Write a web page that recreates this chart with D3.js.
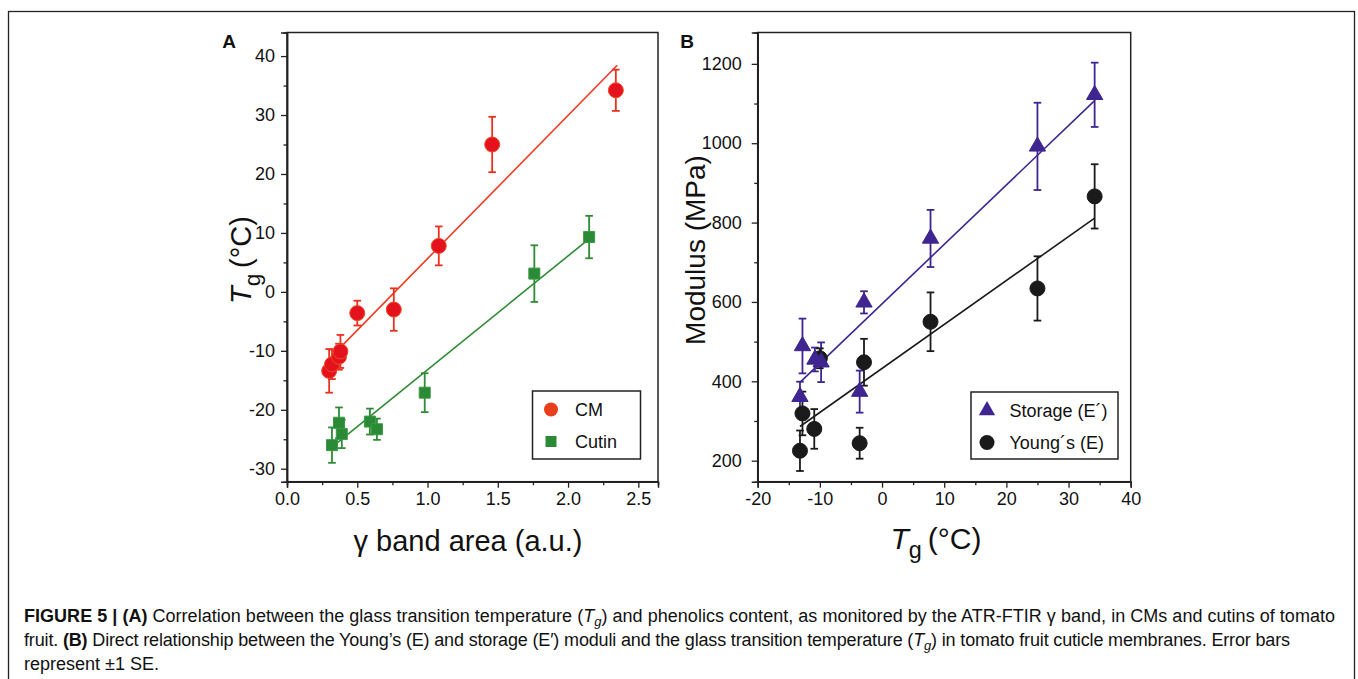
<!DOCTYPE html>
<html><head><meta charset="utf-8">
<script src="https://cdn.jsdelivr.net/npm/d3@7"></script>
<style>
body{margin:0;background:#fff;}
svg{display:block;}
text{font-family:"Liberation Sans",Arial,Helvetica,sans-serif;fill:#111;}
</style>
</head><body>
<svg id="c" width="1358" height="679"></svg>
<script>
// ---------- Data: panel A ----------
const cmX     = [0.30, 0.32, 0.37, 0.38, 0.50, 0.76, 1.08, 1.46, 2.34];
const cmY     = [-13.4, -12.3, -11.0, -10.1, -3.6, -3.0, 7.8, 25.0, 34.2];
const cmErr   = [3.7, 2.5, 2.2, 2.8, 2.1, 3.6, 3.3, 4.7, 3.5];
const cutinX  = [0.32, 0.37, 0.39, 0.59, 0.64, 0.98, 1.76, 2.15];
const cutinY  = [-26.0, -22.2, -24.1, -22.0, -23.3, -17.1, 3.1, 9.3];
const cutinErr= [3.0, 2.6, 2.4, 2.2, 1.8, 3.3, 4.8, 3.6];
const fitCM       = [24.3, -18.66];   // slope, intercept
const fitCMRange  = [0.30, 2.35];
const fitCutin    = [19.3, -32.5];
const fitCutinRange = [0.32, 2.15];

// ---------- Data: panel B ----------
const stoX   = [-13.2, -12.8, -10.8, -9.8, -3.6, -2.9, 7.8, 25.0, 34.2];
const stoY   = [361, 489, 455, 448, 374, 599, 760, 992, 1122];
const stoErr = [38, 69, 30, 50, 53, 28, 72, 110, 81];
const yngX   = [-13.2, -12.8, -10.9, -10.0, -3.6, -2.9, 7.8, 25.0, 34.2];
const yngY   = [225, 319, 280, 458, 244, 448, 550, 634, 866];
const yngErr = [51, 55, 50, 25, 39, 59, 74, 81, 81];
const fitSto      = [14.98, 595.2];
const fitStoRange = [-13.2, 34.2];
const fitYng      = [11.08, 432.3];
const fitYngRange = [-13.2, 34.2];

// ---------- Ticks ----------
const xTicksA = [0, 0.5, 1.0, 1.5, 2.0, 2.5];
const xMinorA = [0.25, 0.75, 1.25, 1.75, 2.25];
const yTicksA = [-30, -20, -10, 0, 10, 20, 30, 40];
const yMinorA = [-25, -15, -5, 5, 15, 25, 35];
const xTicksB = [-20, -10, 0, 10, 20, 30, 40];
const xMinorB = [-15, -5, 5, 15, 25, 35];
const yTicksB = [200, 400, 600, 800, 1000, 1200];
const yMinorB = [300, 500, 700, 900, 1100];

const legendA = ["CM", "Cutin"];
const legendB = ["Storage (E\u00b4)", "Young\u00b4s (E)"];

const svg = d3.select("#c");

// outer frame
svg.append("rect").attr("x", 8.5).attr("y", 11.5).attr("width", 1346).attr("height", 720)
  .attr("fill", "none").attr("stroke", "#222").attr("stroke-width", 1.3);

const plotTop = 32.5, plotBottom = 481.7;
const xA = d3.scaleLinear().domain([0, 2.64]).range([287, 658]);
const yA = d3.scaleLinear().domain([-32.2, 44]).range([plotBottom, plotTop]);
const xB = d3.scaleLinear().domain([-20, 40]).range([757.7, 1130.7]);
const yB = d3.scaleLinear().domain([147, 1279]).range([plotBottom, plotTop]);

const hyph = f => (v => f(v).replace("\u2212", "-"));

function frame(x, y) {
  const [x0, x1] = x.range(), [y0, y1] = y.range();
  svg.append("rect").attr("x", x0).attr("y", y1).attr("width", x1 - x0).attr("height", y0 - y1)
    .attr("fill", "none").attr("stroke", "#222").attr("stroke-width", 1.5);
}

function axes(x, y, xt, xm, yt, ym, xfmt, yfmt, ypad) {
  const g = svg.append("g");
  const [x0] = x.range(), [y0] = y.range();
  g.append("g").attr("transform", `translate(0,${y0})`)
    .call(d3.axisBottom(x).tickValues(xt).tickSize(6).tickPadding(5).tickFormat(xfmt));
  g.append("g").attr("transform", `translate(0,${y0})`)
    .call(d3.axisBottom(x).tickValues(xm).tickSize(3.5).tickFormat(""));
  g.append("g").attr("transform", `translate(${x0},0)`)
    .call(d3.axisLeft(y).tickValues(yt).tickSize(6).tickPadding(ypad).tickFormat(yfmt));
  g.append("g").attr("transform", `translate(${x0},0)`)
    .call(d3.axisLeft(y).tickValues(ym).tickSize(3.5).tickFormat(""));
  g.selectAll(".domain").attr("stroke", "#222").attr("stroke-width", 1.5);
  g.selectAll(".tick line").attr("stroke", "#222").attr("stroke-width", 1.3);
  g.selectAll(".tick text").attr("font-size", 18).attr("fill", "#111")
    .attr("font-family", "Liberation Sans, Arial, sans-serif");
}

frame(xA, yA);
frame(xB, yB);
axes(xA, yA, xTicksA, xMinorA, yTicksA, yMinorA, d3.format(".1f"), hyph(d3.format("d")), 6);
axes(xB, yB, xTicksB, xMinorB, yTicksB, yMinorB, hyph(d3.format("d")), d3.format("d"), 10);

// panel letters
svg.append("text").attr("x", 229).attr("y", 48).attr("text-anchor", "middle")
  .attr("font-size", 19).attr("font-weight", "bold").text("A");
svg.append("text").attr("x", 687).attr("y", 48).attr("text-anchor", "middle")
  .attr("font-size", 19).attr("font-weight", "bold").text("B");

// fit lines
function fitLine(x, y, p, r, color) {
  svg.append("line")
    .attr("x1", x(r[0])).attr("y1", y(p[0] * r[0] + p[1]))
    .attr("x2", x(r[1])).attr("y2", y(p[0] * r[1] + p[1]))
    .attr("stroke", color).attr("stroke-width", 1.6);
}
fitLine(xA, yA, fitCM, fitCMRange, "#ee3a22");
fitLine(xA, yA, fitCutin, fitCutinRange, "#2e8b34");
fitLine(xB, yB, fitSto, fitStoRange, "#3f2590");
fitLine(xB, yB, fitYng, fitYngRange, "#1a1a1a");

// error bars
function errBars(x, y, xs, ys, es, color) {
  const g = svg.append("g").attr("stroke", color).attr("stroke-width", 1.8).attr("fill", "none");
  xs.forEach((xv, i) => {
    const px = x(xv), pt = y(ys[i] + es[i]), pb = y(ys[i] - es[i]);
    g.append("line").attr("x1", px).attr("x2", px).attr("y1", pt).attr("y2", pb);
    g.append("line").attr("x1", px - 3.8).attr("x2", px + 3.8).attr("y1", pt).attr("y2", pt);
    g.append("line").attr("x1", px - 3.8).attr("x2", px + 3.8).attr("y1", pb).attr("y2", pb);
  });
}
errBars(xA, yA, cmX, cmY, cmErr, "#e8321f");
errBars(xA, yA, cutinX, cutinY, cutinErr, "#2e8b34");
errBars(xB, yB, stoX, stoY, stoErr, "#3f2590");
errBars(xB, yB, yngX, yngY, yngErr, "#1a1a1a");

// markers
function markers(x, y, xs, ys, type, size, fill, stroke) {
  svg.append("g").selectAll("path").data(xs).join("path")
    .attr("transform", (d, i) => `translate(${x(d)},${y(ys[i])})`)
    .attr("d", d3.symbol().type(type).size(size))
    .attr("fill", fill).attr("stroke", stroke).attr("stroke-width", 1);
}
markers(xA, yA, cmX, cmY, d3.symbolCircle, Math.PI * 7.5 * 7.5, "#e3121c", "#ef4a26");
markers(xA, yA, cutinX, cutinY, d3.symbolSquare, 11 * 11, "#2b8a35", "#3a9a42");
markers(xB, yB, yngX, yngY, d3.symbolCircle, Math.PI * 7.5 * 7.5, "#1a1a1a", "#1a1a1a");
markers(xB, yB, stoX, stoY, d3.symbolTriangle, 115, "#3f2590", "#3f2590");

// legends
function legend(x0, y0, w, h, labels, symbols, colors, sizes, symOff, txtOff) {
  svg.append("rect").attr("x", x0).attr("y", y0).attr("width", w).attr("height", h)
    .attr("fill", "#fff").attr("stroke", "#222").attr("stroke-width", 1.5);
  labels.forEach((lab, i) => {
    const cy = y0 + 18.5 + i * 32;
    svg.append("path").attr("transform", `translate(${x0 + symOff},${cy})`)
      .attr("d", d3.symbol().type(symbols[i]).size(sizes[i])).attr("fill", colors[i]);
    svg.append("text").attr("x", x0 + txtOff).attr("y", cy + 6.5).attr("font-size", 18).text(lab);
  });
}
legend(532.5, 391, 108, 68, legendA, [d3.symbolCircle, d3.symbolSquare],
  ["#e8401c", "#2b8a35"], [Math.PI * 49, 121], 18.5, 42.5);
legend(971, 392, 147, 67, legendB, [d3.symbolTriangle, d3.symbolCircle],
  ["#3f2590", "#1a1a1a"], [115, Math.PI * 56], 16, 38.5);

// axis titles
function tgTitle(g, size) {
  g.append("tspan").attr("font-style", "italic").text("T");
  g.append("tspan").attr("font-size", size * 0.78).attr("dy", size * 0.3).text("g");
  g.append("tspan").attr("dy", -size * 0.3).text("\u2009(\u00b0C)");
}
const tA = svg.append("text").attr("transform", "translate(251,260) rotate(-90)")
  .attr("text-anchor", "middle").attr("font-size", 29);
tgTitle(tA, 29);
svg.append("text").attr("transform", "translate(705,250) rotate(-90)")
  .attr("text-anchor", "middle").attr("font-size", 28).text("Modulus (MPa)");
svg.append("text").attr("x", 468).attr("y", 551).attr("text-anchor", "middle")
  .attr("font-size", 29).text("\u03b3 band area (a.u.)");
const tB = svg.append("text").attr("x", 936).attr("y", 549).attr("text-anchor", "middle")
  .attr("font-size", 30);
tgTitle(tB, 30);

// caption
const capLines = [
  [["b","FIGURE 5 | (A)"],["n"," Correlation between the glass transition temperature ("],["i","T"],["s","g"],["n",") and phenolics content, as monitored by the ATR-FTIR \u03b3 band, in CMs and cutins of tomato"]],
  [["n","fruit. "],["b","(B)"],["n"," Direct relationship between the Young\u2019s (E) and storage (E\u2032) moduli and the glass transition temperature ("],["i","T"],["s","g"],["n",") in tomato fruit cuticle membranes. Error bars"]],
  [["n","represent \u00b11 SE."]]
];
const capWidths = [1311, 1266, null];
capLines.forEach((line, li) => {
  const t = svg.append("text").attr("x", 24).attr("y", 622 + li * 24).attr("font-size", 18).attr("fill", "#222");
  if (capWidths[li]) t.attr("textLength", capWidths[li]).attr("lengthAdjust", "spacing");
  let shifted = false;
  line.forEach(([k, s]) => {
    const sp = t.append("tspan").text(s);
    if (k === "b") sp.attr("font-weight", "bold");
    if (k === "i") sp.attr("font-style", "italic");
    if (k === "s") { sp.attr("font-style", "italic").attr("font-size", 13).attr("dy", 4); shifted = true; }
    else if (shifted) { sp.attr("dy", -4); shifted = false; }
  });
});
</script>
</body></html>
